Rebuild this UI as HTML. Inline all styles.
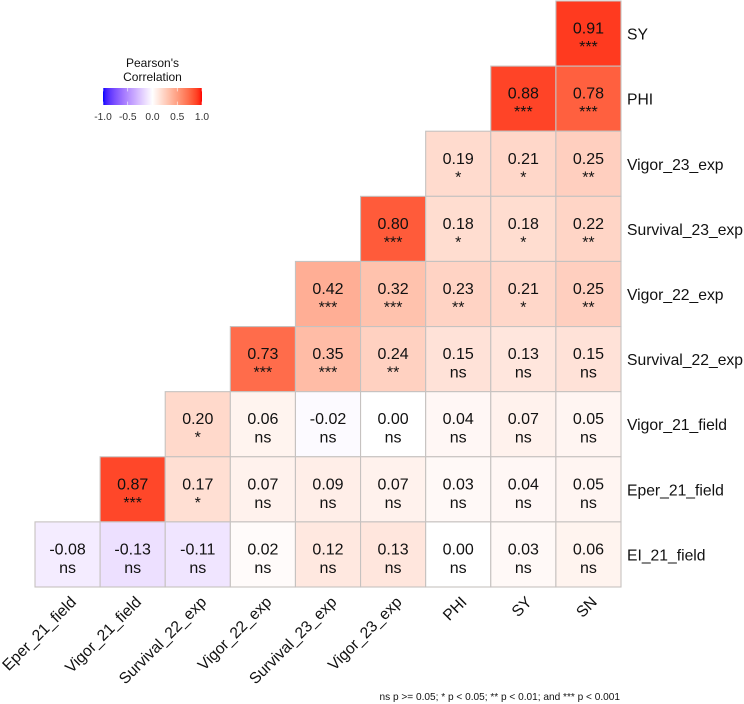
<!DOCTYPE html>
<html><head><meta charset="utf-8"><title>Pearson's Correlation</title>
<style>html,body{margin:0;padding:0;background:#fff;width:744px;height:704px;overflow:hidden}svg{display:block}text{font-family:"Liberation Sans",sans-serif;fill:#111}</style></head>
<body>
<svg id="chart" width="744" height="704" viewBox="0 0 744 704" xmlns="http://www.w3.org/2000/svg">
<defs><linearGradient id="legendGrad" x1="0" x2="1" y1="0" y2="0"></linearGradient></defs>
<g id="cells"></g>
<g id="ylabels"></g>
<g id="xlabels"></g>
<g id="legend">
<text x="152.5" y="67" text-anchor="middle" font-size="12">Pearson's</text>
<text x="152.5" y="81" text-anchor="middle" font-size="12">Correlation</text>
<rect x="103" y="88" width="99" height="17" fill="url(#legendGrad)"/>
</g>
<text x="620" y="700" text-anchor="end" font-size="10.1">ns p &gt;= 0.05; * p &lt; 0.05; ** p &lt; 0.01; and *** p &lt; 0.001</text>
</svg>
<script>
const columns = ["Eper_21_field","Vigor_21_field","Survival_22_exp","Vigor_22_exp","Survival_23_exp","Vigor_23_exp","PHI","SY","SN"];
const rows = ["SY","PHI","Vigor_23_exp","Survival_23_exp","Vigor_22_exp","Survival_22_exp","Vigor_21_field","Eper_21_field","EI_21_field"];
const valuesSY = [0.91];
const valuesPHI = [0.88,0.78];
const valuesVigor23 = [0.19,0.21,0.25];
const valuesSurvival23 = [0.80,0.18,0.18,0.22];
const valuesVigor22 = [0.42,0.32,0.23,0.21,0.25];
const valuesSurvival22 = [0.73,0.35,0.24,0.15,0.13,0.15];
const valuesVigor21 = [0.20,0.06,-0.02,0.00,0.04,0.07,0.05];
const valuesEper21 = [0.87,0.17,0.07,0.09,0.07,0.03,0.04,0.05];
const valuesEI21 = [-0.08,-0.13,-0.11,0.02,0.12,0.13,0.00,0.03,0.06];
const sigSY = ["***"];
const sigPHI = ["***","***"];
const sigVigor23 = ["*","*","**"];
const sigSurvival23 = ["***","*","*","**"];
const sigVigor22 = ["***","***","**","*","**"];
const sigSurvival22 = ["***","***","**","ns","ns","ns"];
const sigVigor21 = ["*","ns","ns","ns","ns","ns","ns"];
const sigEper21 = ["***","*","ns","ns","ns","ns","ns","ns"];
const sigEI21 = ["ns","ns","ns","ns","ns","ns","ns","ns","ns"];
const matrix = [valuesSY,valuesPHI,valuesVigor23,valuesSurvival23,valuesVigor22,valuesSurvival22,valuesVigor21,valuesEper21,valuesEI21];
const sigMatrix = [sigSY,sigPHI,sigVigor23,sigSurvival23,sigVigor22,sigSurvival22,sigVigor21,sigEper21,sigEI21];
const legendTicks = [-1.0,-0.5,0.0,0.5,1.0];

const NS = "http://www.w3.org/2000/svg";
const plotLeft = 35, plotRight = 621, plotTop = 1, plotBottom = 587;
const bandW = (plotRight - plotLeft) / columns.length;
const bandH = (plotBottom - plotTop) / rows.length;
function xScale(i){ return plotLeft + i * bandW; }
function yScale(i){ return plotTop + i * bandH; }
function legendX(v){ return 103 + (v + 1) / 2 * 99; }

function rgb2lab(c){
  const l = c.map(v => { v /= 255; return v > 0.04045 ? Math.pow((v + 0.055) / 1.055, 2.4) : v / 12.92; });
  const X = (0.4124*l[0]+0.3576*l[1]+0.1805*l[2])/0.95047, Y = 0.2126*l[0]+0.7152*l[1]+0.0722*l[2], Z = (0.0193*l[0]+0.1192*l[1]+0.9505*l[2])/1.08883;
  const f = t => t > 0.008856 ? Math.cbrt(t) : 7.787*t + 16/116;
  return [116*f(Y)-16, 500*(f(X)-f(Y)), 200*(f(Y)-f(Z))];
}
function lab2rgb(L){
  const fy = (L[0]+16)/116, fx = fy + L[1]/500, fz = fy - L[2]/200;
  const g = t => t*t*t > 0.008856 ? t*t*t : (t-16/116)/7.787;
  const X = g(fx)*0.95047, Y = g(fy), Z = g(fz)*1.08883;
  const lin = [3.2406*X-1.5372*Y-0.4986*Z, -0.9689*X+1.8758*Y+0.0415*Z, 0.0557*X-0.2040*Y+1.0570*Z];
  return lin.map(v => { v = Math.max(0, Math.min(1, v)); v = v > 0.0031308 ? 1.055*Math.pow(v,1/2.4)-0.055 : 12.92*v; return Math.round(v*255); });
}
const labWhite = rgb2lab([255,255,255]), labRed = rgb2lab([255,0,0]), labBlue = rgb2lab([0,0,255]);
function colorScale(v){
  const end = v >= 0 ? labRed : labBlue, t = Math.min(1, Math.abs(v));
  const c = lab2rgb(labWhite.map((w,i) => w + (end[i]-w)*t));
  return "rgb(" + c.join(",") + ")";
}
function make(tag, attrs, text){
  const el = document.createElementNS(NS, tag);
  for (const k in attrs) el.setAttribute(k, attrs[k]);
  if (text !== undefined) el.textContent = text;
  return el;
}

const cells = document.getElementById("cells");
matrix.forEach((vals, r) => {
  const start = columns.length - vals.length;
  vals.forEach((v, k) => {
    const c = start + k;
    const g = make("g", {});
    
    
    g.appendChild(make("rect", {x:xScale(c), y:yScale(r), width:bandW, height:bandH, fill:colorScale(v), stroke:"#c6c2c0", "stroke-width":1.1}));
    const cx = xScale(c) + bandW/2, cy = yScale(r) + bandH/2;
    const valueText = make("text", {x:cx, y:cy, "text-anchor":"middle", "font-size":16}, v.toFixed(2));
    
    
    g.appendChild(valueText);
    const sigText = make("text", {x:cx, y:cy+18.5, "text-anchor":"middle", "font-size":16}, sigMatrix[r][k]);
    
    
    g.appendChild(sigText);
    cells.appendChild(g);
  });
});

const yGroup = document.getElementById("ylabels");
rows.forEach((name, r) => {
  const t = make("text", {x:627, y:yScale(r)+bandH/2+6, "font-size":15.7}, name);
  
  
  yGroup.appendChild(t);
});

const xGroup = document.getElementById("xlabels");
columns.forEach((name, c) => {
  const px = xScale(c) + bandW/2 + 9.5, py = 603;
  const t = make("text", {x:px, y:py, "font-size":15.7, "text-anchor":"end", transform:"rotate(-45 "+px+" "+py+")"}, name);
  
  
  xGroup.appendChild(t);
});

const grad = document.getElementById("legendGrad");
for (let i = 0; i <= 40; i++) {
  grad.appendChild(make("stop", {offset:(i/40), "stop-color":colorScale(i/20-1)}));
}
const legend = document.getElementById("legend");
legendTicks.forEach(v => {
  const x = legendX(v);
  const a = make("line", {x1:x, x2:x, y1:88, y2:91.4, stroke:"#fff", "stroke-width":0.6});
  
  
  legend.appendChild(a);
  const b = make("line", {x1:x, x2:x, y1:101.6, y2:105, stroke:"#fff", "stroke-width":0.6});
  
  
  legend.appendChild(b);
  const t = make("text", {x:x, y:120, "text-anchor":"middle", "font-size":10.2, style:"fill:#333"}, v.toFixed(1));
  
  
  legend.appendChild(t);
});
</script>
</body></html>
